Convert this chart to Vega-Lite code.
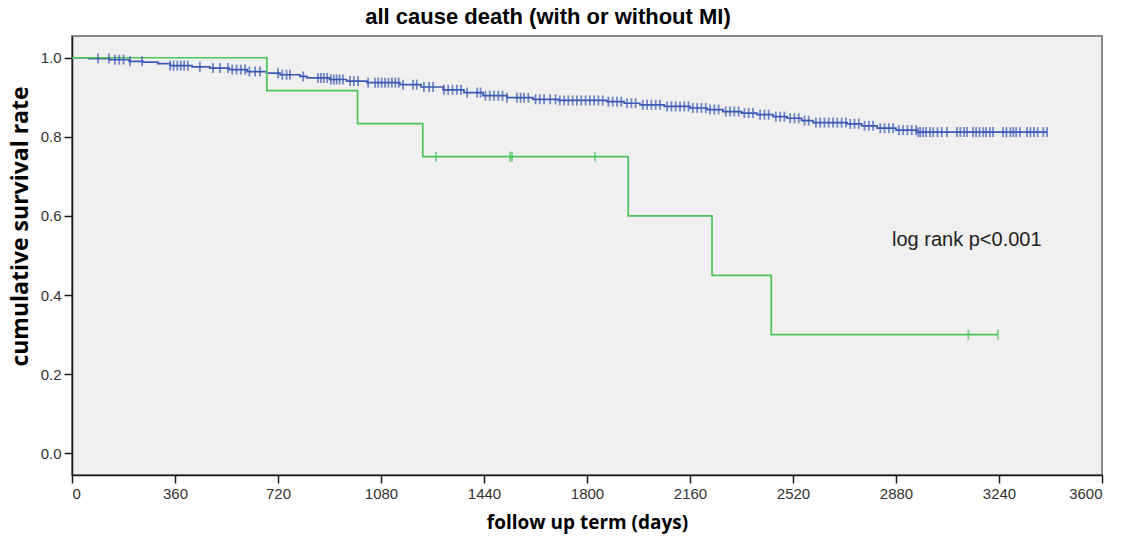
{
  "$schema": "https://vega.github.io/schema/vega-lite/v6.json",
  "width": 1030,
  "height": 439,
  "autosize": {"type": "none"},
  "padding": {"left": 72, "top": 36, "right": 21, "bottom": 70},
  "background": "white",
  "title": {
    "text": "all cause death (with or without MI)",
    "font": "Liberation Sans",
    "fontSize": 22,
    "fontWeight": "bold",
    "color": "#000000",
    "anchor": "middle",
    "dx": -39,
    "offset": 7
  },
  "config": {
    "view": {"fill": "#f0f0f0", "stroke": "#8a8a8a", "strokeWidth": 2},
    "axis": {
      "grid": false,
      "domainColor": "#1a1a1a",
      "domainWidth": 1.5,
      "tickColor": "#1a1a1a",
      "tickWidth": 1.5,
      "tickSize": 8,
      "labelFont": "Liberation Sans",
      "labelFontSize": 15,
      "labelColor": "#333333",
      "labelPadding": 3,
      "titleFont": "Open Sans",
      "titleFontWeight": "bold",
      "titleColor": "#000000"
    }
  },
  "datasets": {
    "curves": [
      {"group": "noMI", "day": 0, "surv": 1.0},
      {"group": "noMI", "day": 60, "surv": 0.998},
      {"group": "noMI", "day": 133, "surv": 0.995},
      {"group": "noMI", "day": 200, "surv": 0.991},
      {"group": "noMI", "day": 248, "surv": 0.989},
      {"group": "noMI", "day": 300, "surv": 0.985},
      {"group": "noMI", "day": 343, "surv": 0.980},
      {"group": "noMI", "day": 420, "surv": 0.977},
      {"group": "noMI", "day": 482, "surv": 0.974},
      {"group": "noMI", "day": 550, "surv": 0.970},
      {"group": "noMI", "day": 612, "surv": 0.965},
      {"group": "noMI", "day": 680, "surv": 0.961},
      {"group": "noMI", "day": 727, "surv": 0.957},
      {"group": "noMI", "day": 797, "surv": 0.953},
      {"group": "noMI", "day": 821, "surv": 0.949},
      {"group": "noMI", "day": 900, "surv": 0.945},
      {"group": "noMI", "day": 960, "surv": 0.941},
      {"group": "noMI", "day": 1031, "surv": 0.937},
      {"group": "noMI", "day": 1146, "surv": 0.932},
      {"group": "noMI", "day": 1220, "surv": 0.926},
      {"group": "noMI", "day": 1297, "surv": 0.919},
      {"group": "noMI", "day": 1370, "surv": 0.912},
      {"group": "noMI", "day": 1437, "surv": 0.904},
      {"group": "noMI", "day": 1520, "surv": 0.899},
      {"group": "noMI", "day": 1611, "surv": 0.895},
      {"group": "noMI", "day": 1700, "surv": 0.892},
      {"group": "noMI", "day": 1870, "surv": 0.889},
      {"group": "noMI", "day": 1930, "surv": 0.885},
      {"group": "noMI", "day": 1985, "surv": 0.881},
      {"group": "noMI", "day": 2070, "surv": 0.877},
      {"group": "noMI", "day": 2160, "surv": 0.873},
      {"group": "noMI", "day": 2220, "surv": 0.869},
      {"group": "noMI", "day": 2275, "surv": 0.864},
      {"group": "noMI", "day": 2340, "surv": 0.860},
      {"group": "noMI", "day": 2394, "surv": 0.856},
      {"group": "noMI", "day": 2450, "surv": 0.851},
      {"group": "noMI", "day": 2499, "surv": 0.847},
      {"group": "noMI", "day": 2550, "surv": 0.841},
      {"group": "noMI", "day": 2590, "surv": 0.836},
      {"group": "noMI", "day": 2709, "surv": 0.833},
      {"group": "noMI", "day": 2760, "surv": 0.828},
      {"group": "noMI", "day": 2814, "surv": 0.822},
      {"group": "noMI", "day": 2880, "surv": 0.817},
      {"group": "noMI", "day": 2953, "surv": 0.812},
      {"group": "noMI", "day": 3408, "surv": 0.812},
      {"group": "MI", "day": 0, "surv": 1.0},
      {"group": "MI", "day": 681, "surv": 0.9167},
      {"group": "MI", "day": 998, "surv": 0.8333},
      {"group": "MI", "day": 1226, "surv": 0.75},
      {"group": "MI", "day": 1944, "surv": 0.60},
      {"group": "MI", "day": 2237, "surv": 0.45},
      {"group": "MI", "day": 2444, "surv": 0.30},
      {"group": "MI", "day": 3236, "surv": 0.30}
    ],
    "censored": [
      {"group": "noMI", "day": 91, "surv": 0.998},
      {"group": "noMI", "day": 129, "surv": 0.998},
      {"group": "noMI", "day": 150, "surv": 0.995},
      {"group": "noMI", "day": 165, "surv": 0.995},
      {"group": "noMI", "day": 180, "surv": 0.995},
      {"group": "noMI", "day": 203, "surv": 0.991},
      {"group": "noMI", "day": 245, "surv": 0.991},
      {"group": "noMI", "day": 343, "surv": 0.980},
      {"group": "noMI", "day": 355, "surv": 0.980},
      {"group": "noMI", "day": 368, "surv": 0.980},
      {"group": "noMI", "day": 380, "surv": 0.980},
      {"group": "noMI", "day": 392, "surv": 0.980},
      {"group": "noMI", "day": 405, "surv": 0.980},
      {"group": "noMI", "day": 447, "surv": 0.977},
      {"group": "noMI", "day": 493, "surv": 0.974},
      {"group": "noMI", "day": 517, "surv": 0.974},
      {"group": "noMI", "day": 545, "surv": 0.974},
      {"group": "noMI", "day": 560, "surv": 0.970},
      {"group": "noMI", "day": 575, "surv": 0.970},
      {"group": "noMI", "day": 590, "surv": 0.970},
      {"group": "noMI", "day": 605, "surv": 0.970},
      {"group": "noMI", "day": 620, "surv": 0.965},
      {"group": "noMI", "day": 640, "surv": 0.965},
      {"group": "noMI", "day": 657, "surv": 0.965},
      {"group": "noMI", "day": 720, "surv": 0.961},
      {"group": "noMI", "day": 735, "surv": 0.957},
      {"group": "noMI", "day": 750, "surv": 0.957},
      {"group": "noMI", "day": 762, "surv": 0.957},
      {"group": "noMI", "day": 808, "surv": 0.953},
      {"group": "noMI", "day": 860, "surv": 0.949},
      {"group": "noMI", "day": 870, "surv": 0.949},
      {"group": "noMI", "day": 880, "surv": 0.949},
      {"group": "noMI", "day": 892, "surv": 0.949},
      {"group": "noMI", "day": 905, "surv": 0.945},
      {"group": "noMI", "day": 915, "surv": 0.945},
      {"group": "noMI", "day": 925, "surv": 0.945},
      {"group": "noMI", "day": 935, "surv": 0.945},
      {"group": "noMI", "day": 947, "surv": 0.945},
      {"group": "noMI", "day": 972, "surv": 0.941},
      {"group": "noMI", "day": 985, "surv": 0.941},
      {"group": "noMI", "day": 1000, "surv": 0.941},
      {"group": "noMI", "day": 1035, "surv": 0.937},
      {"group": "noMI", "day": 1059, "surv": 0.937},
      {"group": "noMI", "day": 1070, "surv": 0.937},
      {"group": "noMI", "day": 1082, "surv": 0.937},
      {"group": "noMI", "day": 1094, "surv": 0.937},
      {"group": "noMI", "day": 1106, "surv": 0.937},
      {"group": "noMI", "day": 1118, "surv": 0.937},
      {"group": "noMI", "day": 1130, "surv": 0.937},
      {"group": "noMI", "day": 1142, "surv": 0.937},
      {"group": "noMI", "day": 1157, "surv": 0.932},
      {"group": "noMI", "day": 1192, "surv": 0.932},
      {"group": "noMI", "day": 1205, "surv": 0.932},
      {"group": "noMI", "day": 1230, "surv": 0.926},
      {"group": "noMI", "day": 1248, "surv": 0.926},
      {"group": "noMI", "day": 1262, "surv": 0.926},
      {"group": "noMI", "day": 1300, "surv": 0.919},
      {"group": "noMI", "day": 1315, "surv": 0.919},
      {"group": "noMI", "day": 1330, "surv": 0.919},
      {"group": "noMI", "day": 1345, "surv": 0.919},
      {"group": "noMI", "day": 1360, "surv": 0.919},
      {"group": "noMI", "day": 1381, "surv": 0.912},
      {"group": "noMI", "day": 1416, "surv": 0.912},
      {"group": "noMI", "day": 1428, "surv": 0.912},
      {"group": "noMI", "day": 1445, "surv": 0.904},
      {"group": "noMI", "day": 1460, "surv": 0.904},
      {"group": "noMI", "day": 1475, "surv": 0.904},
      {"group": "noMI", "day": 1490, "surv": 0.904},
      {"group": "noMI", "day": 1505, "surv": 0.904},
      {"group": "noMI", "day": 1520, "surv": 0.899},
      {"group": "noMI", "day": 1555, "surv": 0.899},
      {"group": "noMI", "day": 1568, "surv": 0.899},
      {"group": "noMI", "day": 1580, "surv": 0.899},
      {"group": "noMI", "day": 1595, "surv": 0.899},
      {"group": "noMI", "day": 1620, "surv": 0.895},
      {"group": "noMI", "day": 1635, "surv": 0.895},
      {"group": "noMI", "day": 1650, "surv": 0.895},
      {"group": "noMI", "day": 1671, "surv": 0.895},
      {"group": "noMI", "day": 1690, "surv": 0.895},
      {"group": "noMI", "day": 1705, "surv": 0.892},
      {"group": "noMI", "day": 1720, "surv": 0.892},
      {"group": "noMI", "day": 1735, "surv": 0.892},
      {"group": "noMI", "day": 1750, "surv": 0.892},
      {"group": "noMI", "day": 1765, "surv": 0.892},
      {"group": "noMI", "day": 1780, "surv": 0.892},
      {"group": "noMI", "day": 1795, "surv": 0.892},
      {"group": "noMI", "day": 1810, "surv": 0.892},
      {"group": "noMI", "day": 1825, "surv": 0.892},
      {"group": "noMI", "day": 1840, "surv": 0.892},
      {"group": "noMI", "day": 1855, "surv": 0.892},
      {"group": "noMI", "day": 1875, "surv": 0.889},
      {"group": "noMI", "day": 1890, "surv": 0.889},
      {"group": "noMI", "day": 1905, "surv": 0.889},
      {"group": "noMI", "day": 1920, "surv": 0.889},
      {"group": "noMI", "day": 1940, "surv": 0.885},
      {"group": "noMI", "day": 1955, "surv": 0.885},
      {"group": "noMI", "day": 1970, "surv": 0.885},
      {"group": "noMI", "day": 1995, "surv": 0.881},
      {"group": "noMI", "day": 2010, "surv": 0.881},
      {"group": "noMI", "day": 2025, "surv": 0.881},
      {"group": "noMI", "day": 2040, "surv": 0.881},
      {"group": "noMI", "day": 2055, "surv": 0.881},
      {"group": "noMI", "day": 2080, "surv": 0.877},
      {"group": "noMI", "day": 2095, "surv": 0.877},
      {"group": "noMI", "day": 2110, "surv": 0.877},
      {"group": "noMI", "day": 2125, "surv": 0.877},
      {"group": "noMI", "day": 2140, "surv": 0.877},
      {"group": "noMI", "day": 2155, "surv": 0.877},
      {"group": "noMI", "day": 2170, "surv": 0.873},
      {"group": "noMI", "day": 2185, "surv": 0.873},
      {"group": "noMI", "day": 2200, "surv": 0.873},
      {"group": "noMI", "day": 2215, "surv": 0.873},
      {"group": "noMI", "day": 2230, "surv": 0.869},
      {"group": "noMI", "day": 2245, "surv": 0.869},
      {"group": "noMI", "day": 2260, "surv": 0.869},
      {"group": "noMI", "day": 2285, "surv": 0.864},
      {"group": "noMI", "day": 2300, "surv": 0.864},
      {"group": "noMI", "day": 2315, "surv": 0.864},
      {"group": "noMI", "day": 2330, "surv": 0.864},
      {"group": "noMI", "day": 2350, "surv": 0.860},
      {"group": "noMI", "day": 2365, "surv": 0.860},
      {"group": "noMI", "day": 2380, "surv": 0.860},
      {"group": "noMI", "day": 2405, "surv": 0.856},
      {"group": "noMI", "day": 2420, "surv": 0.856},
      {"group": "noMI", "day": 2435, "surv": 0.856},
      {"group": "noMI", "day": 2460, "surv": 0.851},
      {"group": "noMI", "day": 2475, "surv": 0.851},
      {"group": "noMI", "day": 2490, "surv": 0.851},
      {"group": "noMI", "day": 2510, "surv": 0.847},
      {"group": "noMI", "day": 2525, "surv": 0.847},
      {"group": "noMI", "day": 2540, "surv": 0.847},
      {"group": "noMI", "day": 2560, "surv": 0.841},
      {"group": "noMI", "day": 2575, "surv": 0.841},
      {"group": "noMI", "day": 2600, "surv": 0.836},
      {"group": "noMI", "day": 2615, "surv": 0.836},
      {"group": "noMI", "day": 2630, "surv": 0.836},
      {"group": "noMI", "day": 2645, "surv": 0.836},
      {"group": "noMI", "day": 2660, "surv": 0.836},
      {"group": "noMI", "day": 2675, "surv": 0.836},
      {"group": "noMI", "day": 2690, "surv": 0.836},
      {"group": "noMI", "day": 2705, "surv": 0.836},
      {"group": "noMI", "day": 2720, "surv": 0.833},
      {"group": "noMI", "day": 2735, "surv": 0.833},
      {"group": "noMI", "day": 2750, "surv": 0.833},
      {"group": "noMI", "day": 2770, "surv": 0.828},
      {"group": "noMI", "day": 2785, "surv": 0.828},
      {"group": "noMI", "day": 2800, "surv": 0.828},
      {"group": "noMI", "day": 2825, "surv": 0.822},
      {"group": "noMI", "day": 2840, "surv": 0.822},
      {"group": "noMI", "day": 2855, "surv": 0.822},
      {"group": "noMI", "day": 2870, "surv": 0.822},
      {"group": "noMI", "day": 2890, "surv": 0.817},
      {"group": "noMI", "day": 2905, "surv": 0.817},
      {"group": "noMI", "day": 2920, "surv": 0.817},
      {"group": "noMI", "day": 2935, "surv": 0.817},
      {"group": "noMI", "day": 2950, "surv": 0.817},
      {"group": "noMI", "day": 2958, "surv": 0.812},
      {"group": "noMI", "day": 2965, "surv": 0.812},
      {"group": "noMI", "day": 2975, "surv": 0.812},
      {"group": "noMI", "day": 2985, "surv": 0.812},
      {"group": "noMI", "day": 2999, "surv": 0.812},
      {"group": "noMI", "day": 3010, "surv": 0.812},
      {"group": "noMI", "day": 3025, "surv": 0.812},
      {"group": "noMI", "day": 3040, "surv": 0.812},
      {"group": "noMI", "day": 3058, "surv": 0.812},
      {"group": "noMI", "day": 3093, "surv": 0.812},
      {"group": "noMI", "day": 3105, "surv": 0.812},
      {"group": "noMI", "day": 3118, "surv": 0.812},
      {"group": "noMI", "day": 3128, "surv": 0.812},
      {"group": "noMI", "day": 3149, "surv": 0.812},
      {"group": "noMI", "day": 3160, "surv": 0.812},
      {"group": "noMI", "day": 3172, "surv": 0.812},
      {"group": "noMI", "day": 3185, "surv": 0.812},
      {"group": "noMI", "day": 3195, "surv": 0.812},
      {"group": "noMI", "day": 3208, "surv": 0.812},
      {"group": "noMI", "day": 3219, "surv": 0.812},
      {"group": "noMI", "day": 3254, "surv": 0.812},
      {"group": "noMI", "day": 3266, "surv": 0.812},
      {"group": "noMI", "day": 3280, "surv": 0.812},
      {"group": "noMI", "day": 3290, "surv": 0.812},
      {"group": "noMI", "day": 3300, "surv": 0.812},
      {"group": "noMI", "day": 3313, "surv": 0.812},
      {"group": "noMI", "day": 3338, "surv": 0.812},
      {"group": "noMI", "day": 3350, "surv": 0.812},
      {"group": "noMI", "day": 3362, "surv": 0.812},
      {"group": "noMI", "day": 3375, "surv": 0.812},
      {"group": "noMI", "day": 3395, "surv": 0.812},
      {"group": "noMI", "day": 3408, "surv": 0.812},
      {"group": "MI", "day": 1272, "surv": 0.75},
      {"group": "MI", "day": 1531, "surv": 0.75},
      {"group": "MI", "day": 1538, "surv": 0.75},
      {"group": "MI", "day": 1828, "surv": 0.75},
      {"group": "MI", "day": 3133, "surv": 0.30},
      {"group": "MI", "day": 3236, "surv": 0.30}
    ],
    "notes": [
      {"day": 2866, "surv": 0.539, "label": "log rank p<0.001"}
    ]
  },
  "layer": [
    {
      "data": {"name": "curves"},
      "mark": {"type": "line", "interpolate": "step-after", "strokeWidth": 1.7},
      "encoding": {
        "x": {
          "field": "day", "type": "quantitative",
          "scale": {"domain": [0, 3600], "nice": false, "zero": false},
          "axis": {
            "title": "follow up term (days)",
            "titleFontSize": 19,
            "labelFontSize": 15,
            "values": [0, 360, 720, 1080, 1440, 1800, 2160, 2520, 2880, 3240, 3600],
            "format": "d",
            "titlePadding": 12
          }
        },
        "y": {
          "field": "surv", "type": "quantitative",
          "scale": {"domain": [-0.055, 1.055], "nice": false, "zero": false},
          "axis": {
            "title": "cumulative survival rate",
            "titleFontSize": 23,
            "labelFontSize": 15,
            "titleY": 190,
            "values": [0, 0.2, 0.4, 0.6, 0.8, 1.0],
            "format": ".1f",
            "titlePadding": 8
          }
        },
        "color": {
          "field": "group", "type": "nominal",
          "scale": {"domain": ["noMI", "MI"], "range": ["#3d58b4", "#4cc35c"]},
          "legend": null
        }
      }
    },
    {
      "data": {"name": "censored"},
      "mark": {"type": "tick", "orient": "vertical", "size": 10, "thickness": 1.8},
      "encoding": {
        "x": {"field": "day", "type": "quantitative"},
        "y": {"field": "surv", "type": "quantitative"},
        "color": {"field": "group", "type": "nominal", "legend": null}
      }
    },
    {
      "data": {"name": "notes"},
      "mark": {"type": "text", "align": "left", "baseline": "middle", "font": "Liberation Sans", "fontSize": 20, "color": "#222222"},
      "encoding": {
        "x": {"field": "day", "type": "quantitative"},
        "y": {"field": "surv", "type": "quantitative"},
        "text": {"field": "label"}
      }
    }
  ]
}
